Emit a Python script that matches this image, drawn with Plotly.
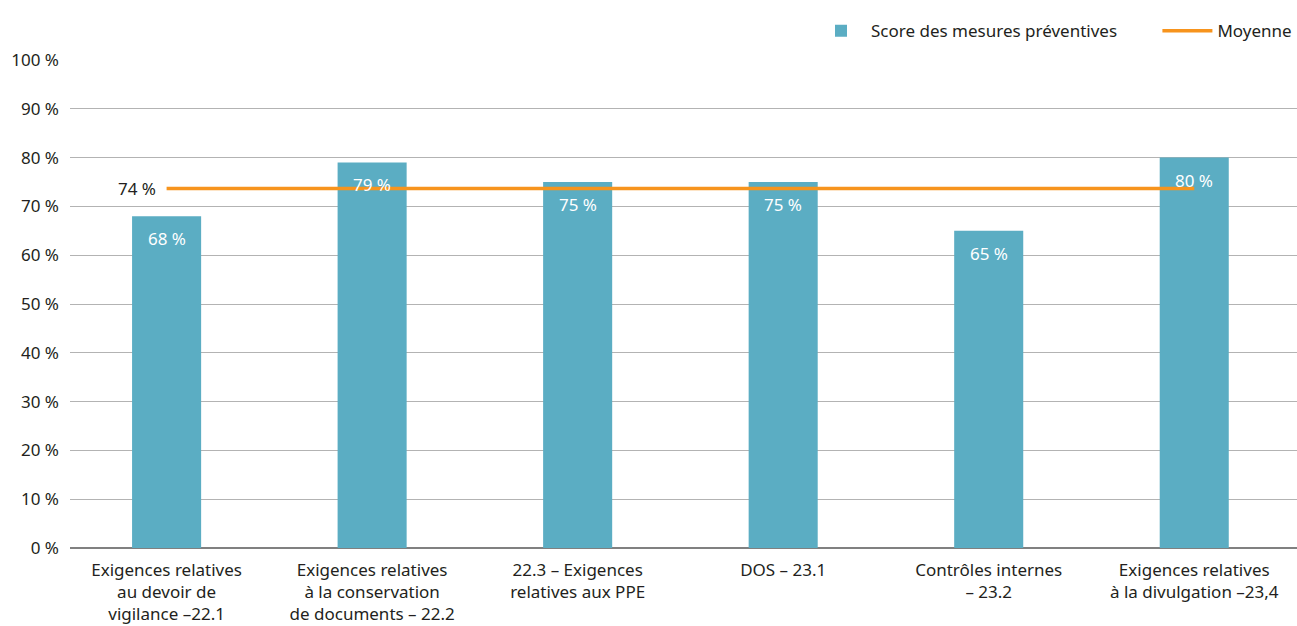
import plotly.graph_objects as go

categories = [
    "Exigences relatives<br>au devoir de<br>vigilance –22.1",
    "Exigences relatives<br>à la conservation<br>de documents – 22.2",
    "22.3 – Exigences<br>relatives aux PPE",
    "DOS – 23.1",
    "Contrôles internes<br>– 23.2",
    "Exigences relatives<br>à la divulgation –23,4",
]
scores = [68, 79, 75, 75, 65, 80]
score_labels = ["68 %", "79 %", "75 %", "75 %", "65 %", "80 %"]
mean_value = 73.67
mean_label = "74 %"
ytick_vals = [0, 10, 20, 30, 40, 50, 60, 70, 80, 90, 100]
ytick_text = ["0 %", "10 %", "20 %", "30 %", "40 %", "50 %", "60 %", "70 %", "80 %", "90 %", "100 %"]

FONT = "Noto Sans"
TXT = "#231F20"
BAR = "#5BADC3"
ORANGE = "#F7941D"

fig = go.Figure()
fig.add_trace(go.Bar(
    x=categories, y=scores, name="Score des mesures préventives        ",
    marker=dict(color=BAR, line=dict(width=0)), width=0.336,
))
fig.add_trace(go.Scatter(
    x=categories, y=[mean_value] * len(categories), name="Moyenne",
    mode="lines", line=dict(color=ORANGE, width=3.5),
))

for c, v, t in zip(categories, scores, score_labels):
    fig.add_annotation(x=c, y=v, text=t, showarrow=False, yanchor="top", yshift=-9,
                       font=dict(family=FONT, size=17, color="white"))
fig.add_annotation(x=categories[0], y=mean_value, text=mean_label, showarrow=False,
                   xanchor="right", xshift=-9, font=dict(family=FONT, size=17, color=TXT))

fig.update_layout(
    width=1297, height=626,
    margin=dict(l=70, r=0, t=60, b=78),
    paper_bgcolor="white", plot_bgcolor="white",
    font=dict(family=FONT, size=17, color=TXT),
    bargap=0.5,
    legend=dict(orientation="h", x=1, xanchor="right", y=1.059, yanchor="middle",
                font=dict(family=FONT, size=17, color=TXT), traceorder="normal",
                itemwidth=50),
    showlegend=True,
)
fig.update_xaxes(range=[-0.47, 5.5], showgrid=False, showline=False, ticks="",
                 ticklabelstandoff=10,
                 tickfont=dict(family=FONT, size=17, color=TXT))
fig.update_yaxes(range=[0, 100], tickvals=ytick_vals, ticktext=ytick_text,
                 showgrid=True, gridcolor="#B3B3B3", gridwidth=1.2,
                 zeroline=True, zerolinecolor="#808080", zerolinewidth=1.5,
                 showline=False, ticks="", ticklabelstandoff=10,
                 tickfont=dict(family=FONT, size=17, color=TXT))

fig.write_html("out.html")
